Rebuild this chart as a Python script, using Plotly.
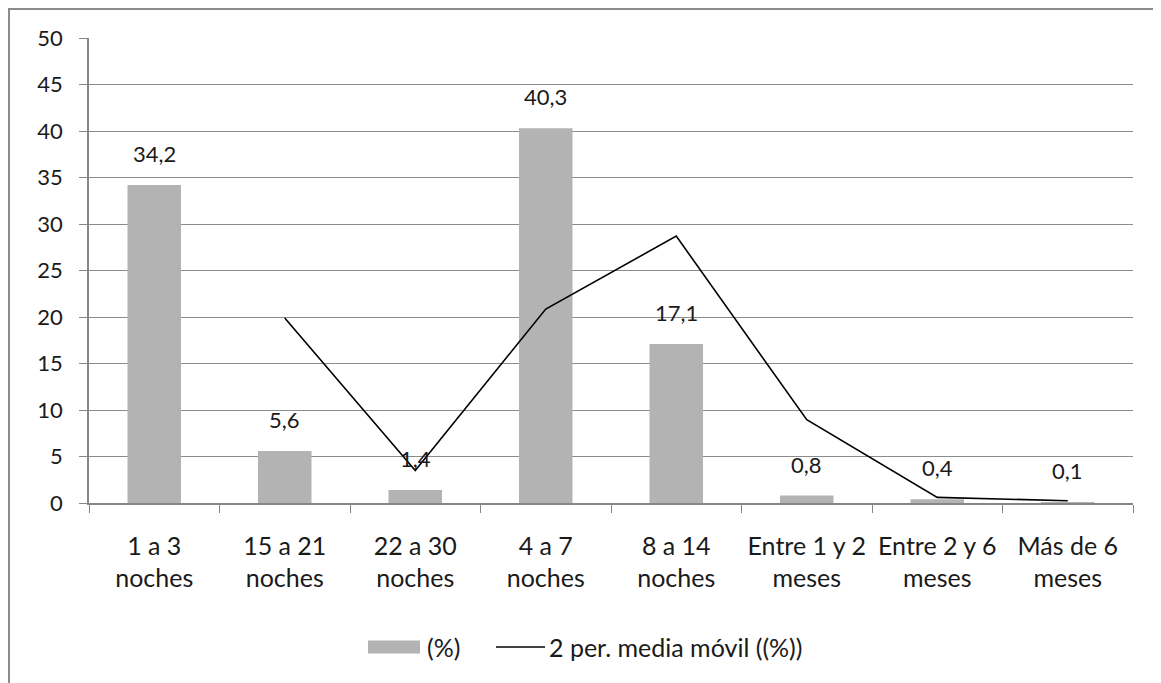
import plotly.graph_objects as go

categories = ["1 a 3<br>noches", "15 a 21<br>noches", "22 a 30<br>noches", "4 a 7<br>noches",
              "8 a 14<br>noches", "Entre 1 y 2<br>meses", "Entre 2 y 6<br>meses", "Más de 6<br>meses"]
pct = [34.2, 5.6, 1.4, 40.3, 17.1, 0.8, 0.4, 0.1]
media_movil = [None, 19.9, 3.5, 20.85, 28.7, 8.95, 0.6, 0.25]
labels = [f"{v:.1f}".replace(".", ",") for v in pct]

FONT = "Lato"
FS_NUM = 22
FS_TXT = 25
TXT = "#1a1a1a"
GRAY = "#b3b3b3"

fig = go.Figure()
fig.add_trace(go.Bar(
    x=categories, y=pct, name="(%)",
    marker=dict(color=GRAY, line=dict(width=0)),
    showlegend=False,
))
fig.add_trace(go.Scatter(
    x=categories, y=media_movil, name="2 per. media móvil ((%))",
    mode="lines", line=dict(color="black", width=1.6), showlegend=False,
))

# figure geometry (page offset of 8px by body margin)
W, H = 1153, 675
L, R, T, B = 81, 28, 30, 180
pw, ph = W - L - R, H - T - B
bottom_px = H - B


def px(x):
    return (x - L) / pw


def py(y):
    return (bottom_px - y) / ph


annotations = []
for c, v, t in zip(categories, pct, labels):
    annotations.append(dict(x=c, y=v, xref="x", yref="y", text=t, showarrow=False,
                            yanchor="bottom", yshift=16,
                            font=dict(size=FS_NUM, family=FONT, color=TXT)))

# manual legend
leg_y = 639
annotations.append(dict(x=px(417), y=py(leg_y), xref="paper", yref="paper", text="(%)",
                        showarrow=False, xanchor="left", yanchor="middle",
                        font=dict(size=FS_TXT, family=FONT, color=TXT)))
annotations.append(dict(x=px(539), y=py(leg_y), xref="paper", yref="paper",
                        text="2 per. media móvil ((%))",
                        showarrow=False, xanchor="left", yanchor="middle",
                        font=dict(size=FS_TXT, family=FONT, color=TXT)))

shapes = [
    dict(type="line", xref="paper", yref="paper",
         x0=px(0), x1=px(W), y0=py(1), y1=py(1),
         line=dict(color="#8c8c8c", width=2)),
    dict(type="line", xref="paper", yref="paper",
         x0=px(1), x1=px(1), y0=py(0), y1=py(H),
         line=dict(color="#8c8c8c", width=2)),
    dict(type="rect", xref="paper", yref="paper",
         x0=px(360), x1=px(412), y0=py(leg_y - 6.5), y1=py(leg_y + 6.5),
         fillcolor=GRAY, line=dict(width=0)),
    dict(type="line", xref="paper", yref="paper",
         x0=px(488), x1=px(537), y0=py(leg_y), y1=py(leg_y),
         line=dict(color="black", width=1.6)),
]

fig.update_layout(
    width=W, height=H,
    margin=dict(l=L, r=R, t=T, b=B),
    paper_bgcolor="white", plot_bgcolor="white",
    bargap=0.59,
    font=dict(family=FONT, size=FS_TXT, color=TXT),
    showlegend=False,
    xaxis=dict(type="category", showline=True, linecolor="#868686", linewidth=1.5,
               ticks="outside", tickson="boundaries", ticklen=8, tickcolor="#868686",
               tickfont=dict(size=FS_TXT, family=FONT, color=TXT), showgrid=False,
               ticklabelstandoff=20),
    yaxis=dict(range=[0, 50], dtick=5, showline=True, linecolor="#868686", linewidth=1.5,
               ticks="outside", ticklen=8, tickcolor="#868686",
               gridcolor="#8c8c8c", gridwidth=1, zeroline=False,
               tickfont=dict(size=FS_NUM, family=FONT, color=TXT), ticklabelstandoff=12),
    shapes=shapes,
    annotations=annotations,
)
fig.write_html("out.html")
